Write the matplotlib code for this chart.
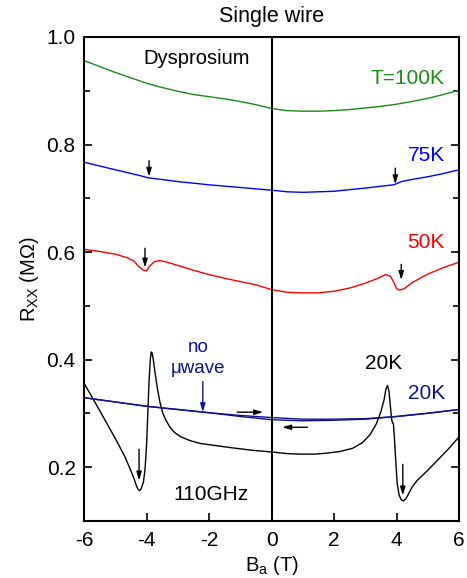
import matplotlib
matplotlib.use("Agg")
import matplotlib.pyplot as plt
from matplotlib.ticker import MultipleLocator

plt.rcParams['font.family'] = ['Liberation Sans', 'DejaVu Sans']
plt.rcParams['axes.unicode_minus'] = False

# R_xx vs applied field, Dy single wire
b_100 = [-6, -5.5, -5, -4.5, -4, -3.5, -3, -2.5, -2, -1.5, -1, -0.5, 0, 0.5, 1, 1.5, 2, 2.5, 3, 3.5, 4, 4.5, 5, 5.5, 6]
r_100 = [0.956, 0.945, 0.934, 0.924, 0.914, 0.906, 0.899, 0.893, 0.889, 0.885, 0.880, 0.874, 0.867, 0.863, 0.862,
         0.862, 0.863, 0.865, 0.868, 0.871, 0.875, 0.880, 0.886, 0.893, 0.901]

b_75 = [-6, -5, -4.2, -3.95, -3.8, -3, -2, -1, 0, 0.5, 1, 2, 3, 3.9, 4.0, 4.15, 4.5, 5, 5.5, 6]
r_75 = [0.767, 0.753, 0.742, 0.738, 0.737, 0.731, 0.725, 0.720, 0.715, 0.712, 0.711, 0.713, 0.719, 0.725,
        0.727, 0.731, 0.735, 0.740, 0.746, 0.753]

b_50 = [-6, -5.5, -5, -4.6, -4.4, -4.25, -4.1, -4.0, -3.9, -3.75, -3.6, -3.4, -3, -2.5, -2, -1.5, -1, -0.5, 0,
        0.5, 1, 1.5, 2, 2.5, 3, 3.4, 3.65, 3.8, 3.9, 4.0, 4.1, 4.25, 4.5, 5, 5.5, 6]
r_50 = [0.605, 0.601, 0.596, 0.589, 0.583, 0.573, 0.566, 0.565, 0.574, 0.582, 0.584, 0.582, 0.575, 0.566, 0.558,
        0.551, 0.545, 0.539, 0.530, 0.525, 0.524, 0.524, 0.527, 0.533, 0.542, 0.551, 0.558, 0.555, 0.545, 0.532,
        0.529, 0.532, 0.543, 0.559, 0.571, 0.581]

# 20K with 110GHz irradiation
b_20mw = [-6, -5.5, -5, -4.7, -4.5, -4.4, -4.33, -4.27, -4.22, -4.17, -4.1, -4.05, -4.0, -3.96, -3.92, -3.88,
          -3.85, -3.82, -3.78, -3.72, -3.65, -3.57, -3.48, -3.38, -3.25, -3.1, -2.9, -2.6, -2.3, -1.8, -1.3, -0.6,
          0, 0.5, 0.9, 1.4, 1.8, 2.2, 2.6, 2.9, 3.15, 3.35, 3.5, 3.6, 3.66, 3.71, 3.76, 3.8, 3.84, 3.87, 3.9,
          3.93, 3.97, 4.02, 4.08, 4.15, 4.22, 4.3, 4.4, 4.5, 4.66, 5.0, 5.3, 5.65, 6]
r_20mw = [0.356, 0.305, 0.253, 0.220, 0.193, 0.178, 0.166, 0.158, 0.156, 0.160, 0.172, 0.195, 0.240, 0.300,
          0.360, 0.400, 0.414, 0.412, 0.398, 0.372, 0.345, 0.320, 0.300, 0.287, 0.274, 0.264, 0.256, 0.249, 0.244,
          0.240, 0.236, 0.231, 0.228, 0.225, 0.224, 0.224, 0.226, 0.229, 0.235, 0.245, 0.260, 0.280, 0.303, 0.325,
          0.345, 0.352, 0.340, 0.315, 0.290, 0.282, 0.280, 0.255, 0.215, 0.170, 0.148, 0.139, 0.137, 0.141, 0.152,
          0.163, 0.175, 0.194, 0.212, 0.233, 0.256]

# 20K without microwaves, up and down sweeps
b_20 = [-6, -5, -4, -3, -2, -1, 0, 1, 2, 3, 4, 5, 6]
r_20_up = [0.329, 0.321, 0.313, 0.307, 0.301, 0.296, 0.292, 0.289, 0.289, 0.290, 0.294, 0.300, 0.307]
r_20_down = [0.329, 0.321, 0.313, 0.307, 0.301, 0.294, 0.288, 0.286, 0.287, 0.289, 0.294, 0.300, 0.307]

# down arrows marking the features: (B, R_from, R_to)
kinks_75 = [(-3.92, 0.770, 0.740), (3.96, 0.756, 0.726)]
kinks_50 = [(-4.05, 0.607, 0.571), (4.15, 0.577, 0.548)]
kinks_20 = [(-4.24, 0.233, 0.175), (4.2, 0.205, 0.147)]

navy = '#10108f'

fig = plt.figure(figsize=(4.67, 5.78), dpi=100)
ax = fig.add_axes([0.18, 0.099, 0.803, 0.837])

ax.plot(b_100, r_100, color='#1a8a1a', lw=1)
ax.plot(b_75, r_75, color='#0000ff', lw=1)
ax.plot(b_50, r_50, color='#ff0000', lw=1)
ax.plot(b_20mw, r_20mw, color='black', lw=1)
ax.plot(b_20, r_20_up, color=navy, lw=1)
ax.plot(b_20, r_20_down, color=navy, lw=1)

ax.axvline(0, color='black', lw=1.5)

arr = dict(arrowstyle='-|>,head_length=0.5,head_width=0.15', color='black', lw=1, shrinkA=0, shrinkB=0)
for b, r0, r1 in kinks_75 + kinks_50 + kinks_20:
    ax.annotate('', xy=(b, r1), xytext=(b, r0), arrowprops=arr)

ax.annotate('', xy=(-2.2, 0.302), xytext=(-2.2, 0.359), arrowprops=dict(arr, color=navy))
ax.annotate('', xy=(-0.27, 0.302), xytext=(-1.1, 0.302), arrowprops=arr)
ax.annotate('', xy=(0.34, 0.274), xytext=(1.15, 0.274), arrowprops=arr)

fs = 15
ax.text(-2.4, 0.96, 'Dysprosium', fontsize=14.5, ha='center', va='center')
ax.text(5.55, 0.922, 'T=100K', fontsize=fs, ha='right', va='center', color='#1a8a1a')
ax.text(5.55, 0.78, '75K', fontsize=fs, ha='right', va='center', color='#0000ff')
ax.text(5.55, 0.617, '50K', fontsize=fs, ha='right', va='center', color='#ff0000')
ax.text(3.6, 0.393, '20K', fontsize=fs, ha='center', va='center', color='black')
ax.text(5.55, 0.337, '20K', fontsize=fs, ha='right', va='center', color=navy)
ax.text(-2.35, 0.423, 'no', fontsize=13.5, ha='center', va='center', color=navy)
ax.text(-2.35, 0.384, 'μwave', fontsize=13.5, ha='center', va='center', color=navy)
ax.text(-1.95, 0.149, '110GHz', fontsize=fs, ha='center', va='center')

ax.set_xlim(-6, 6)
ax.set_ylim(0.1, 1.0)
ax.xaxis.set_major_locator(MultipleLocator(2))
ax.yaxis.set_major_locator(MultipleLocator(0.2))
ax.yaxis.set_minor_locator(MultipleLocator(0.1))
ax.yaxis.set_major_formatter(plt.FuncFormatter(lambda v, p: f'{v:.1f}'))
ax.tick_params(which='both', direction='in', right=True, top=False, labelsize=fs, width=1.2)
ax.tick_params(which='major', length=6)
ax.tick_params(which='minor', length=4)
ax.tick_params(axis='x', pad=7)
ax.tick_params(axis='y', pad=6)
for s in ax.spines.values():
    s.set_linewidth(1.5)

ax.set_xlabel('B$_\\mathregular{a}$ (T)', fontsize=14.5, labelpad=3)
ax.set_ylabel('R$_\\mathregular{XX}$ (MΩ)', fontsize=14.5, labelpad=4)
ax.set_title('Single wire', fontsize=15.5, pad=11)

fig.savefig('out.png', dpi=100)
